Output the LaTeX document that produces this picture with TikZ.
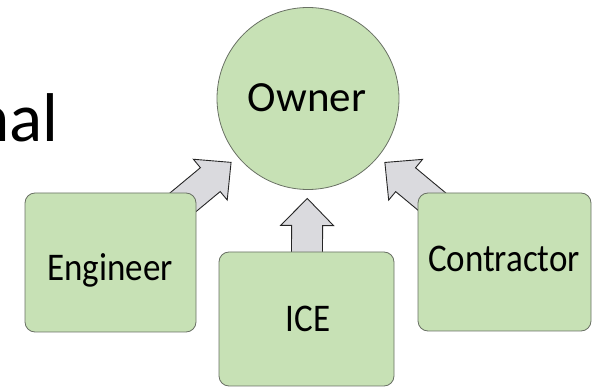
\documentclass[tikz,border=0pt]{standalone}
\usepackage{fontspec}
\setmainfont{Carlito}
\usetikzlibrary{calc,backgrounds}
\definecolor{boxgreen}{RGB}{199,225,181}
\definecolor{edgegray}{RGB}{105,112,100}
\definecolor{arrowgray}{RGB}{218,218,222}
\tikzset{
  box/.style n args={2}{draw=edgegray, line width=0.8pt, fill=boxgreen,
    rounded corners=10pt, inner sep=0pt, minimum width=#1, minimum height=#2},
  ownercircle/.style={circle, draw=edgegray, line width=0.8pt, fill=boxgreen,
    inner sep=0pt, minimum size=182pt},
  lbl/.style={inner sep=0pt, anchor=base, font=\fontsize{35}{35}\selectfont},
  blockarr/.style={draw=black!85, line width=0.9pt, fill=arrowgray, line join=miter},
}
\newcommand\tallertext[1]{\scalebox{1}[1.12]{#1}}
\newcommand\blockarrow[2]{%
  \path ($(#2.center)!100pt!(#1.center)$) coordinate (#1-tip);
  \path ($(#1-tip)!27pt!(#1.center)$) coordinate (#1-head);
  \path ($(#1-tip)!75pt!(#1.center)$) coordinate (#1-tail);
  \draw[blockarr] (#1-tip)
    -- ($(#1-head)!26.5pt!90:(#1-tip)$)
    -- ($(#1-head)!15.5pt!90:(#1-tip)$)
    -- ($(#1-tail)!15.5pt!90:(#1-tip)$)
    -- ($(#1-tail)!15.5pt!-90:(#1-tip)$)
    -- ($(#1-head)!15.5pt!-90:(#1-tip)$)
    -- ($(#1-head)!26.5pt!-90:(#1-tip)$)
    -- cycle;
}
\begin{document}
\begin{tikzpicture}[x=1pt, y=-1pt]
\useasboundingbox (0,0) rectangle (592,387);

\node[anchor=base east, inner sep=0pt, font=\fontsize{69}{69}\selectfont] (title) at (58.5,142) {nal};

\node[ownercircle] (owner) at (308,98.5) {};
\node[inner sep=0pt, anchor=base, font=\fontsize{43}{43}\selectfont] (ownert) at (307,112) {Owner};

\node[box={171pt}{139pt}] (eng) at (110.5,262.5) {};
\node[lbl] (engt) at (110,281) {\tallertext{Engineer}};

\node[box={175pt}{134pt}] (ice) at (306.5,319) {};
\node[lbl] (icet) at (308,332) {\tallertext{ICE}};

\node[box={173pt}{138pt}] (con) at (504.5,262) {};
\node[lbl] (cont) at (504,272) {\tallertext{Contractor}};

\begin{scope}[on background layer]
\blockarrow{eng}{owner}
\blockarrow{ice}{owner}
\blockarrow{con}{owner}
\end{scope}
\end{tikzpicture}
\end{document}
